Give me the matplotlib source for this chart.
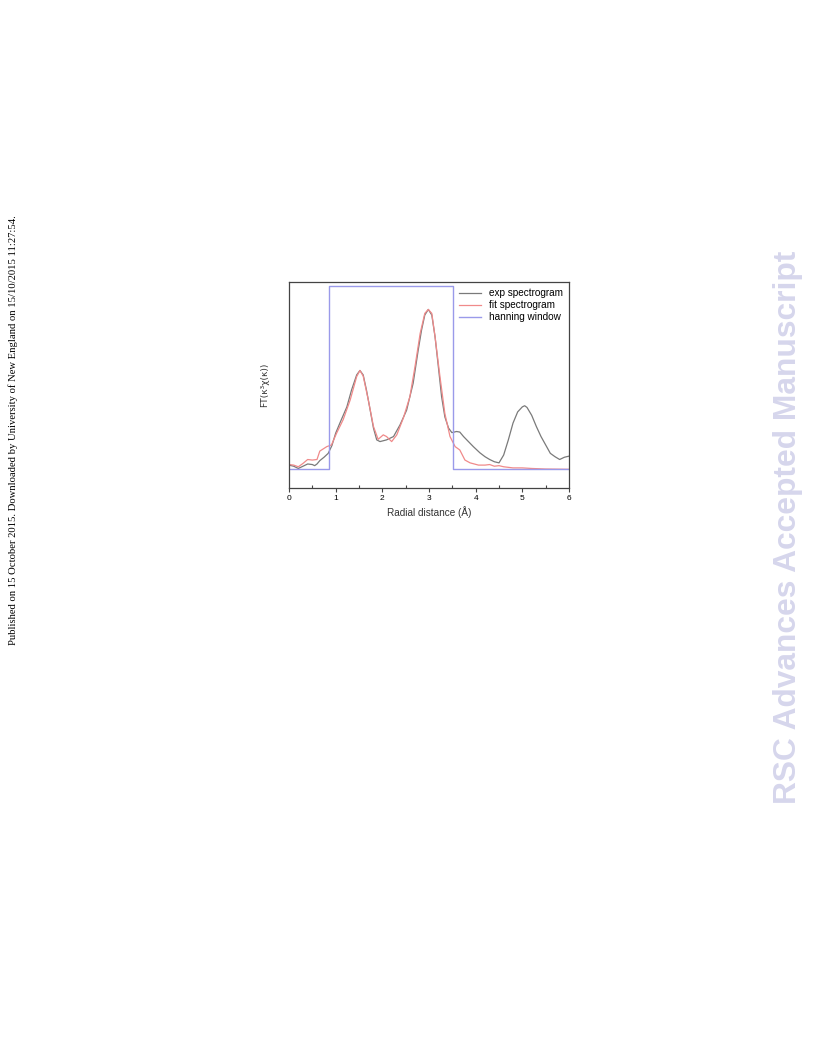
import matplotlib.pyplot as plt
import numpy as np

plt.rcParams['font.family'] = ['Liberation Sans', 'DejaVu Sans']

# Data (y in arbitrary FT units)
r_exp = [0, 0.1, 0.2, 0.3, 0.4, 0.5, 0.55, 0.6, 0.66, 0.75, 0.84, 0.92, 1.0, 1.09, 1.24, 1.34,
         1.45, 1.52, 1.59, 1.66, 1.74, 1.81, 1.88, 1.95, 2.09, 2.24, 2.38, 2.52, 2.66, 2.77, 2.84,
         2.91, 2.985, 3.06, 3.13, 3.2, 3.27, 3.34, 3.42, 3.49, 3.59, 3.66, 3.74, 3.95, 4.09, 4.2,
         4.3, 4.4, 4.5, 4.6, 4.7, 4.8, 4.9, 5.0, 5.05, 5.1, 5.2, 5.3, 5.4, 5.5, 5.6, 5.7, 5.8,
         5.9, 6.0]
ft_exp = [0.23, 0.21, 0.17, 0.21, 0.25, 0.24, 0.22, 0.25, 0.31, 0.37, 0.44, 0.58, 0.80, 0.98,
          1.27, 1.57, 1.84, 1.92, 1.84, 1.57, 1.21, 0.89, 0.68, 0.65, 0.68, 0.74, 0.95, 1.21,
          1.69, 2.29, 2.64, 2.91, 3.01, 2.91, 2.52, 1.99, 1.45, 1.09, 0.89, 0.81, 0.83, 0.82,
          0.74, 0.56, 0.45, 0.38, 0.33, 0.29, 0.27, 0.41, 0.68, 0.98, 1.18, 1.27, 1.29, 1.26,
          1.12, 0.92, 0.74, 0.59, 0.44, 0.38, 0.33, 0.37, 0.39]

r_fit = [0, 0.1, 0.2, 0.3, 0.4, 0.5, 0.6, 0.66, 0.81, 0.91, 1.02, 1.16, 1.31, 1.45, 1.52, 1.59,
         1.7, 1.81, 1.91, 2.02, 2.09, 2.2, 2.31, 2.45, 2.59, 2.7, 2.81, 2.91, 2.985, 3.06, 3.13,
         3.235, 3.34, 3.45, 3.56, 3.66, 3.77, 3.88, 4.06, 4.2, 4.3, 4.4, 4.5, 4.6, 4.8, 5.0, 5.2,
         5.5, 6.0]
ft_fit = [0.24, 0.23, 0.20, 0.26, 0.33, 0.32, 0.33, 0.48, 0.56, 0.59, 0.80, 1.04, 1.39, 1.81,
          1.92, 1.82, 1.39, 0.92, 0.69, 0.77, 0.74, 0.65, 0.77, 1.07, 1.45, 1.99, 2.58, 2.94,
          3.01, 2.94, 2.52, 1.81, 1.15, 0.74, 0.56, 0.50, 0.32, 0.27, 0.23, 0.23, 0.24, 0.21,
          0.22, 0.20, 0.18, 0.18, 0.17, 0.16, 0.155]

r_win = [0, 0.86, 0.86, 3.51, 3.51, 6]
ft_win = [0.155, 0.155, 3.43, 3.43, 0.155, 0.155]

fig = plt.figure(figsize=(8.16, 10.56), dpi=100)
ax = fig.add_axes([289 / 816, 1 - 488 / 1056, 280 / 816, 206 / 1056])

ax.plot(r_exp, ft_exp, color='#7a7a7a', lw=0.9, label='exp spectrogram')
ax.plot(r_fit, ft_fit, color='#f08a8a', lw=0.9, label='fit spectrogram')
ax.plot(r_win, ft_win, color='#9a9aea', lw=1.0, label='hanning window')

ax.set_xlim(0, 6)
ax.set_ylim(-0.179, 3.5)
ax.set_xticks(range(7))
ax.set_xticks(np.arange(0.5, 6, 1), minor=True)
ax.set_yticks([0, 1, 2, 3])
ax.set_yticklabels([])
ax.tick_params(axis='x', which='major', direction='out', length=3, width=0.8, color='#444444',
               labelsize=6, pad=2)
ax.tick_params(axis='x', which='minor', direction='in', length=2, width=0.8, color='#444444')
ax.tick_params(axis='y', which='major', direction='inout', length=5, width=1, color='white',
               left=True, right=True)
for s in ax.spines.values():
    s.set_color('#444444')
    s.set_linewidth(0.9)

ax.set_xlabel('Radial distance (Å)', fontsize=7.2, color='#333333', labelpad=3)
ax.set_ylabel('FT(κ³χ(κ))', fontsize=6.6, color='#333333', labelpad=8, family='DejaVu Sans')

ax.legend(loc='upper right', frameon=False, fontsize=7.2, handlelength=2.2, labelspacing=0.2,
          borderaxespad=0.2, handletextpad=0.8)

fig.text(13 / 816, 1 - 430 / 1056, 'Published on 15 October 2015. Downloaded by University of New England on 15/10/2015 11:27:54.',
         rotation=90, ha='center', va='center', fontsize=7.65, family='Liberation Serif')
fig.text(788 / 816, 1 - 527 / 1056, 'RSC Advances Accepted Manuscript', rotation=90, ha='center',
         va='center', fontsize=22.9, fontweight='bold', color='#d6d6ec', family='Liberation Sans')

fig.savefig('out.png', dpi=100)
